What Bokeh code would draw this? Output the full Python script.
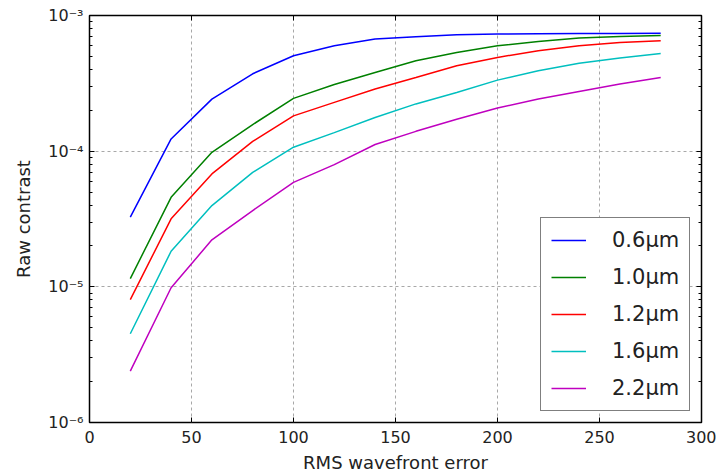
from bokeh.plotting import figure
from bokeh.models import (Range1d, LogAxis, LinearAxis, FixedTicker, LogTicker,
                          Legend, LegendItem, CustomJSTickFormatter)
from bokeh.embed import file_html
from bokeh.resources import INLINE

rms_error = [20, 40, 60, 80, 100, 120, 140, 160, 180, 200, 220, 240, 260, 280]
c_06 = [3.26e-5, 1.23e-4, 2.42e-4, 3.72e-4, 5.05e-4, 5.98e-4, 6.70e-4, 6.98e-4,
        7.21e-4, 7.29e-4, 7.33e-4, 7.36e-4, 7.38e-4, 7.40e-4]
c_10 = [1.15e-5, 4.57e-5, 9.8e-5, 1.57e-4, 2.45e-4, 3.10e-4, 3.80e-4, 4.64e-4,
        5.34e-4, 5.98e-4, 6.44e-4, 6.82e-4, 7.00e-4, 7.13e-4]
c_12 = [8.05e-6, 3.17e-5, 6.8e-5, 1.18e-4, 1.82e-4, 2.29e-4, 2.87e-4, 3.49e-4,
        4.26e-4, 4.91e-4, 5.50e-4, 5.98e-4, 6.33e-4, 6.52e-4]
c_16 = [4.51e-6, 1.83e-5, 3.97e-5, 6.98e-5, 1.07e-4, 1.37e-4, 1.77e-4, 2.23e-4,
        2.71e-4, 3.34e-4, 3.92e-4, 4.44e-4, 4.86e-4, 5.25e-4]
c_22 = [2.39e-6, 9.85e-6, 2.22e-5, 3.65e-5, 5.89e-5, 7.96e-5, 1.12e-4, 1.40e-4,
        1.72e-4, 2.08e-4, 2.42e-4, 2.75e-4, 3.13e-4, 3.49e-4]
series_labels = ["0.6\u03bcm", "1.0\u03bcm", "1.2\u03bcm", "1.6\u03bcm", "2.2\u03bcm"]
series_colors = ["#0000ff", "#008000", "#ff0000", "#00bfbf", "#bf00bf"]
x_ticks = [0, 50, 100, 150, 200, 250, 300]
y_ticks = [1e-6, 1e-5, 1e-4, 1e-3]
y_tick_labels = {1e-6: "10\u207b\u2076", 1e-5: "10\u207b\u2075",
                 1e-4: "10\u207b\u2074", 1e-3: "10\u207b\u00b3"}

FONT = "DejaVu Sans"

p = figure(width=716, height=476, output_backend="svg", toolbar_location=None,
           y_axis_type="log", x_range=Range1d(0, 300), y_range=Range1d(1e-6, 1e-3),
           min_border_left=89, min_border_right=15, min_border_top=15,
           min_border_bottom=54)
p.background_fill_color = "white"
p.border_fill_color = "white"
p.outline_line_color = "black"
p.outline_line_width = 1.5

renderers = []
for ys, col in zip([c_06, c_10, c_12, c_16, c_22], series_colors):
    r = p.line(rms_error, ys, line_color=col, line_width=1.5)
    renderers.append(r)

def style_axis(ax):
    ax.axis_line_color = None
    ax.major_tick_in = 5
    ax.major_tick_out = 0
    ax.minor_tick_in = 3
    ax.minor_tick_out = 0
    ax.major_tick_line_color = "black"
    ax.minor_tick_line_color = "black"
    ax.major_label_text_font = FONT
    ax.major_label_text_font_size = "16px"
    ax.major_label_text_color = "#222222"
    ax.axis_label_text_font = FONT
    ax.axis_label_text_font_size = "18px"
    ax.axis_label_text_font_style = "normal"
    ax.axis_label_text_color = "#222222"

xa = p.xaxis[0]
style_axis(xa)
xa.ticker = FixedTicker(ticks=x_ticks)
xa.minor_tick_line_color = None
xa.axis_label = "RMS wavefront error"
xa.major_label_standoff = 8
xa.axis_label_standoff = 6

ya = p.yaxis[0]
style_axis(ya)
ya.ticker = LogTicker(desired_num_ticks=4, num_minor_ticks=10)
ya.major_label_overrides = y_tick_labels
ya.axis_label = "Raw contrast"
ya.major_label_standoff = 6
ya.axis_label_standoff = 11

ra = LogAxis(ticker=LogTicker(desired_num_ticks=4, num_minor_ticks=10))
style_axis(ra)
ra.formatter = CustomJSTickFormatter(code="return ' '")
ra.major_label_text_font_size = "6px"
ra.major_label_standoff = 0
p.add_layout(ra, "right")

ta = LinearAxis(ticker=FixedTicker(ticks=x_ticks))
style_axis(ta)
ta.formatter = CustomJSTickFormatter(code="return ' '")
ta.minor_tick_line_color = None
ta.major_label_text_font_size = "6px"
ta.major_label_standoff = 0
p.add_layout(ta, "above")

p.xgrid.ticker = FixedTicker(ticks=x_ticks)
for g in (p.xgrid[0], p.ygrid[0]):
    g.grid_line_color = "#a8a8a8"
    g.grid_line_dash = "3 3"
    g.grid_line_width = 1
p.ygrid[0].ticker = FixedTicker(ticks=y_ticks)

items = [LegendItem(label=lab, renderers=[r]) for lab, r in zip(series_labels, renderers)]
legend = Legend(items=items, location=(451, 11))
legend.label_text_font = FONT
legend.label_text_font_size = "21px"
legend.label_text_color = "#222222"
legend.glyph_width = 35
legend.glyph_height = 20
legend.label_height = 20
legend.label_standoff = 26
legend.spacing = 13
legend.padding = 10
legend.margin = 0
legend.border_line_color = "black"
legend.border_line_width = 1.5
legend.background_fill_color = "white"
legend.background_fill_alpha = 1
p.add_layout(legend, "center")

open("out.html", "w").write(file_html(p, INLINE))
